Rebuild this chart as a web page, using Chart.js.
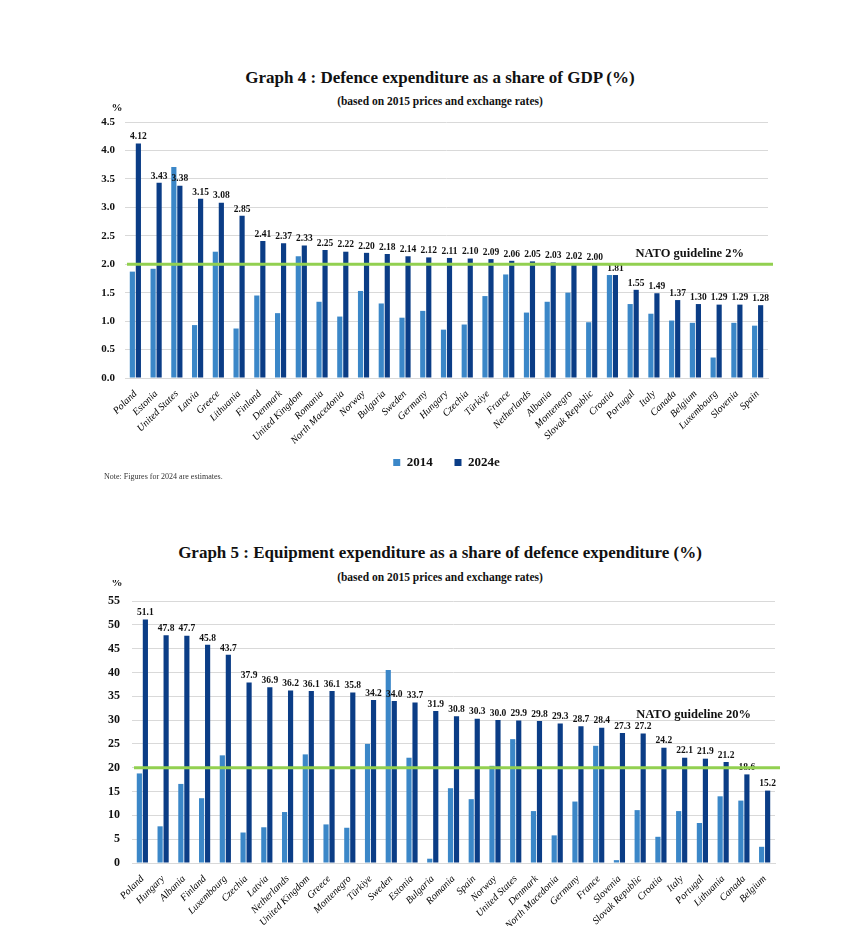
<!DOCTYPE html>
<html>
<head>
<meta charset="utf-8">
<script src="https://cdn.jsdelivr.net/npm/chart.js@4.4.1/dist/chart.umd.min.js"></script>
<style>
  body{margin:0;background:#fff;width:844px;height:926px;position:relative;overflow:hidden;font-family:"Liberation Serif",serif;color:#111}
  .ttl{position:absolute;left:0;width:880px;text-align:center;font-weight:bold;white-space:nowrap}
  .big{font-size:17px;line-height:20px}
  .sub{font-size:11.5px;line-height:14px}
  .note{position:absolute;left:104px;top:472px;font-size:8px;color:#333}
  .box{position:absolute;left:0;width:844px}
</style>
</head>
<body>

<div class="ttl big" style="top:68px">Graph 4 : Defence expenditure as a share of GDP (%)</div>
<div class="ttl sub" style="top:94px">(based on 2015 prices and exchange rates)</div>
<div class="box" style="top:100px;height:380px"><canvas id="g4"></canvas></div>
<div class="note">Note: Figures for 2024 are estimates.</div>

<div class="ttl big" style="top:543px">Graph 5 : Equipment expenditure as a share of defence expenditure (%)</div>
<div class="ttl sub" style="top:570px">(based on 2015 prices and exchange rates)</div>
<div class="box" style="top:580px;height:346px"><canvas id="g5"></canvas></div>

<script>
// ── Graph 4 : dépenses de défense en % du PIB ──
const gdpCountries = ['Poland','Estonia','United States','Latvia','Greece','Lithuania','Finland','Denmark','United Kingdom','Romania','North Macedonia','Norway','Bulgaria','Sweden','Germany','Hungary','Czechia','Türkiye','France','Netherlands','Albania','Montenegro','Slovak Republic','Croatia','Portugal','Italy','Canada','Belgium','Luxembourg','Slovenia','Spain'];
const gdp2014 = [1.87,1.92,3.71,0.93,2.22,0.87,1.45,1.14,2.14,1.34,1.08,1.53,1.31,1.06,1.18,0.85,0.94,1.44,1.82,1.15,1.34,1.50,0.98,1.81,1.30,1.13,1.01,0.97,0.36,0.97,0.92];
const gdp2024 = [4.12,3.43,3.38,3.15,3.08,2.85,2.41,2.37,2.33,2.25,2.22,2.20,2.18,2.14,2.12,2.11,2.10,2.09,2.06,2.05,2.03,2.02,2.00,1.81,1.55,1.49,1.37,1.30,1.29,1.29,1.28];

// ── Graph 5 : équipement en % des dépenses de défense ──
const eqCountries = ['Poland','Hungary','Albania','Finland','Luxembourg','Czechia','Latvia','Netherlands','United Kingdom','Greece','Montenegro','Türkiye','Sweden','Estonia','Bulgaria','Romania','Spain','Norway','United States','Denmark','North Macedonia','Germany','France','Slovenia','Slovak Republic','Croatia','Italy','Portugal','Lithuania','Canada','Belgium'];
const eq2014 = [18.8,7.7,16.6,13.6,22.6,6.4,7.5,10.7,22.8,8.1,7.4,25.0,40.5,22.1,0.9,15.7,13.4,20.4,26.0,10.9,5.8,12.9,24.6,0.6,11.1,5.5,10.9,8.4,14.0,13.1,3.4];
const eq2024 = [51.1,47.8,47.7,45.8,43.7,37.9,36.9,36.2,36.1,36.1,35.8,34.2,34.0,33.7,31.9,30.8,30.3,30.0,29.9,29.8,29.3,28.7,28.4,27.3,27.2,24.2,22.1,21.9,21.2,18.6,15.2];

const seriesNames = ['2014','2024e'];
const gdpTicks = [0,0.5,1,1.5,2,2.5,3,3.5,4,4.5];
const eqTicks = [0,5,10,15,20,25,30,35,40,45,50,55];

const C_LIGHT='#3B87C8', C_DARK='#0B3D86', C_GREEN='#92D050', SERIF='"Liberation Serif", serif';

// ligne OTAN + étiquettes de valeurs + "%"
const extras = {
  id:'extras',
  afterDatasetsDraw(chart, args, o){
    const ctx=chart.ctx, a=chart.chartArea, y=chart.scales.y;
    ctx.save();
    // valeurs au-dessus des barres foncées
    ctx.font='bold 9.5px '+SERIF; ctx.fillStyle='#111'; ctx.textAlign='center'; ctx.textBaseline='bottom';
    chart.getDatasetMeta(1).data.forEach((b,i)=>{
      ctx.fillText(chart.data.datasets[1].data[i].toFixed(o.dec), b.x, b.y-2);
    });
    // ligne directrice
    const gy=y.getPixelForValue(o.guide);
    ctx.beginPath(); ctx.moveTo(a.left+2,gy); ctx.lineTo(a.right+5,gy);
    ctx.lineWidth=3; ctx.strokeStyle=C_GREEN; ctx.stroke();
    ctx.font='bold 12.5px '+SERIF; ctx.textAlign='right'; ctx.textBaseline='middle';
    ctx.fillText(o.text, a.right-24, y.getPixelForValue(o.textAt));
    // unité
    ctx.font='bold 11px '+SERIF; ctx.textAlign='center';
    ctx.fillText('%', a.left+o.pctDx, a.top+o.pctDy);
    ctx.restore();
  }
};

function makeChart(id, cats, d14, d24, ticks, o){
  return new Chart(document.getElementById(id), {
    type:'bar',
    data:{labels:cats, datasets:[
      {label:seriesNames[0], data:d14, backgroundColor:C_LIGHT, barPercentage:0.86, categoryPercentage:0.58},
      {label:seriesNames[1], data:d24, backgroundColor:C_DARK, barPercentage:0.86, categoryPercentage:0.58}
    ]},
    options:{
      responsive:true, maintainAspectRatio:false, animation:false,
      layout:{padding:o.pad},
      plugins:{
        legend:{display:o.legend, position:'bottom', fullSize:false,
          labels:{boxWidth:7, boxHeight:7, padding:12, color:'#111', font:{family:SERIF, size:13, weight:'bold'},
            // espaces après la 1re entrée pour écarter les deux
            generateLabels:ch=>Chart.defaults.plugins.legend.labels.generateLabels(ch).map((it,i,arr)=>({...it, text:i<arr.length-1?it.text+'   ':it.text}))}},
        tooltip:{enabled:false},
        extras:o.extras
      },
      scales:{
        x:{grid:{display:false}, border:{color:'#D9D9D9'},
          ticks:{minRotation:45, maxRotation:45, autoSkip:false, padding:2, color:'#000', font:{family:SERIF, size:10, style:'italic'}},
          afterFit:s=>{s.height=o.xh;}},
        y:{min:ticks[0], max:ticks[ticks.length-1],
          afterBuildTicks:s=>{s.ticks=ticks.map(v=>({value:v}));},
          grid:{color:'#D9D9D9', drawTicks:false}, border:{display:false},
          ticks:{padding:o.tp, color:'#111', font:{family:SERIF, size:o.fs, weight:'bold'}, callback:v=>o.fmt(v)},
          afterFit:s=>{s.width=30;}}
      }
    },
    plugins:[extras]
  });
}

makeChart('g4', gdpCountries, gdp2014, gdp2024, gdpTicks, {
  pad:{top:22, left:95, right:76, bottom:1}, legend:true, xh:66, tp:10, fs:11,
  fmt:v=>v.toFixed(1),
  extras:{guide:2, text:'NATO guideline 2%', textAt:2.18, dec:2, pctDx:-8, pctDy:-14}
});

makeChart('g5', eqCountries, eq2014, eq2024, eqTicks, {
  pad:{top:21, left:102, right:69, bottom:0}, legend:false, xh:63, tp:12, fs:12,
  fmt:v=>String(v),
  extras:{guide:20, text:'NATO guideline 20%', textAt:31.2, dec:1, pctDx:-15, pctDy:-18}
});
</script>
</body>
</html>
